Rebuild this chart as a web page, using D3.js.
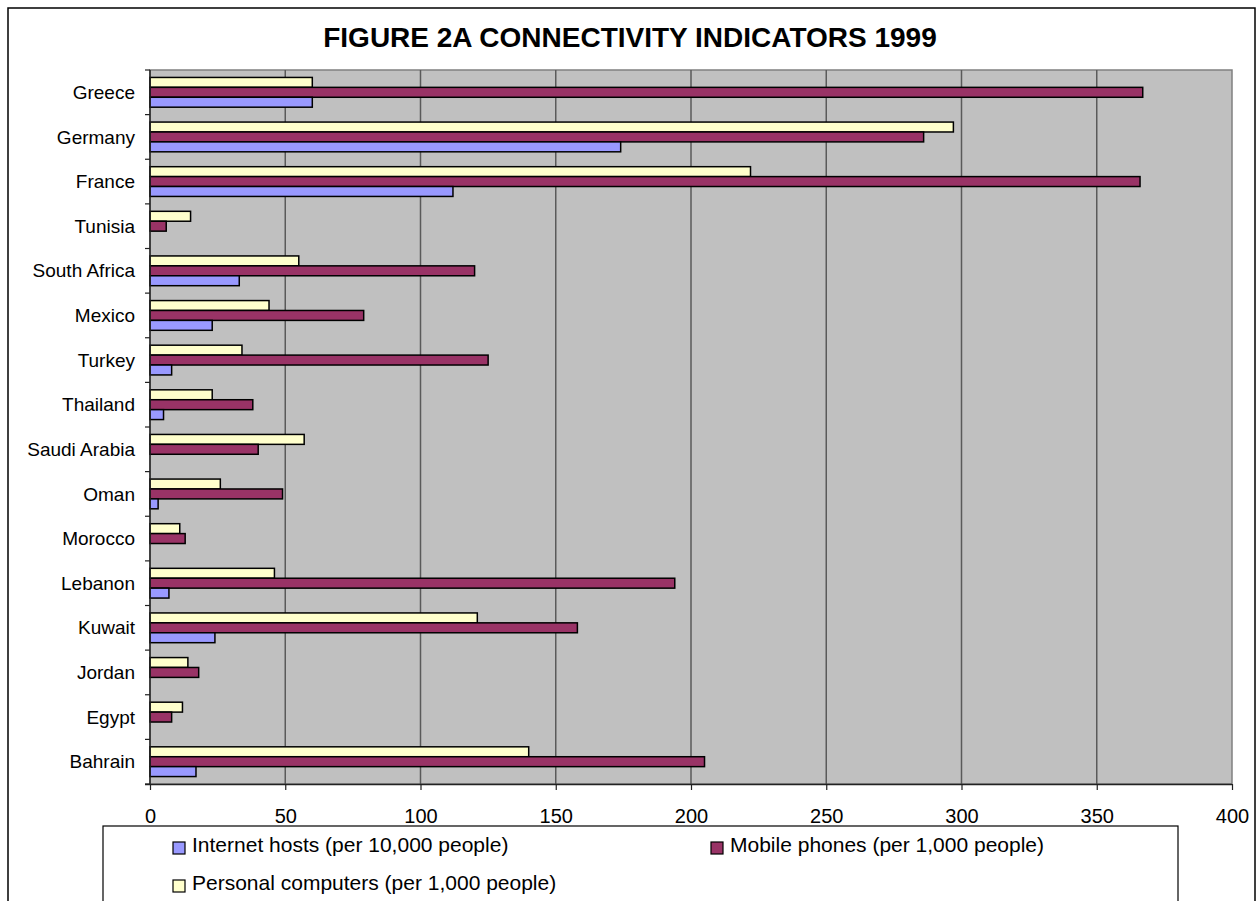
<!DOCTYPE html>
<html>
<head>
<meta charset="utf-8">
<script src="https://cdn.jsdelivr.net/npm/d3@7"></script>
<style>
  html, body { margin: 0; padding: 0; background: #fff; }
  svg { display: block; font-family: Arial, "Liberation Sans", sans-serif; }
</style>
</head>
<body>
<svg id="chart" width="1260" height="901"></svg>
<script>
// ---- Data ----
const categories = ["Greece","Germany","France","Tunisia","South Africa","Mexico","Turkey","Thailand","Saudi Arabia","Oman","Morocco","Lebanon","Kuwait","Jordan","Egypt","Bahrain"];
const internetHosts = [60,174,112,null,33,23,8,5,null,3,null,7,24,null,null,17];
const mobilePhones = [367,286,366,6,120,79,125,38,40,49,13,194,158,18,8,205];
const personalComputers = [60,297,222,15,55,44,34,23,57,26,11,46,121,14,12,140];
const xTicks = [0,50,100,150,200,250,300,350,400];
const seriesNames = ["Internet hosts (per 10,000 people)","Mobile phones (per 1,000 people)","Personal computers (per 1,000 people)"];
const seriesColors = ["#9999FF","#993366","#FFFFCC"];
const titleText = "FIGURE 2A CONNECTIVITY INDICATORS 1999";

// series in drawing order within a band (top to bottom)
const series = [
  {key:"pc", name: seriesNames[2], color: seriesColors[2], values: personalComputers},
  {key:"mobile", name: seriesNames[1], color: seriesColors[1], values: mobilePhones},
  {key:"internet", name: seriesNames[0], color: seriesColors[0], values: internetHosts}
];

const svg = d3.select("#chart");
const W = 1260, H = 901;
const plot = {left: 150, right: 1232, top: 70, bottom: 784};

svg.append("rect").attr("width", W).attr("height", H).attr("fill", "#fff");
// outer chart border
svg.append("rect").attr("x", 8).attr("y", 8).attr("width", 1247).attr("height", 905)
  .attr("fill", "none").attr("stroke", "#000").attr("stroke-width", 1.5);

// title
svg.append("text").attr("x", 630).attr("y", 47).attr("text-anchor", "middle")
  .attr("font-size", 28).attr("font-weight", "bold").attr("fill", "#000").text(titleText);

const x = d3.scaleLinear().domain([0, 400]).range([plot.left, plot.right]);
const y = d3.scaleBand().domain(categories).range([plot.top, plot.bottom]).paddingInner(0).paddingOuter(0);
const sub = d3.scaleBand().domain(series.map(s => s.key)).range([0, y.bandwidth()]).paddingInner(0).paddingOuter(0.75);

// plot background
svg.append("rect").attr("x", plot.left).attr("y", plot.top)
  .attr("width", plot.right - plot.left).attr("height", plot.bottom - plot.top)
  .attr("fill", "#C0C0C0").attr("stroke", "#808080").attr("stroke-width", 1.5);

// gridlines
svg.append("g").selectAll("line").data(xTicks.filter(d => d > 0 && d < 400)).join("line")
  .attr("x1", d => x(d)).attr("x2", d => x(d))
  .attr("y1", plot.top).attr("y2", plot.bottom)
  .attr("stroke", "#5a5a5a").attr("stroke-width", 1.5);

// bars
const rows = categories.map((c, i) => ({c, i}));
series.forEach(s => {
  svg.append("g").selectAll("rect")
    .data(rows.filter(r => s.values[r.i] != null && s.values[r.i] > 0))
    .join("rect")
    .attr("x", x(0))
    .attr("y", r => y(r.c) + sub(s.key))
    .attr("width", r => x(s.values[r.i]) - x(0))
    .attr("height", sub.bandwidth())
    .attr("fill", s.color)
    .attr("stroke", "#000").attr("stroke-width", 1.5);
});

// bottom axis
const xAxis = d3.axisBottom(x).tickValues(xTicks).tickSize(6).tickPadding(19).tickSizeOuter(0);
const gx = svg.append("g").attr("transform", `translate(0,${plot.bottom})`).call(xAxis);
gx.select(".domain").attr("stroke", "#222").attr("stroke-width", 1.5).attr("d", `M${plot.left-5},0.5H${plot.right}`);
gx.selectAll(".tick line").attr("stroke", "#222").attr("stroke-width", 1.2);
gx.selectAll(".tick text").attr("font-size", 20).attr("fill", "#000")
  .attr("font-family", "Arial, 'Liberation Sans', sans-serif");

// left axis: line, ticks between categories, labels at centres
const gy = svg.append("g");
gy.append("line").attr("x1", plot.left).attr("x2", plot.left).attr("y1", plot.top).attr("y2", plot.bottom)
  .attr("stroke", "#222").attr("stroke-width", 1.5);
const boundaries = categories.map(c => y(c)).concat([plot.bottom]);
gy.selectAll("line.tk").data(boundaries).join("line").attr("class", "tk")
  .attr("x1", plot.left - 5).attr("x2", plot.left).attr("y1", d => d).attr("y2", d => d)
  .attr("stroke", "#222").attr("stroke-width", 1.2);
gy.selectAll("text").data(categories).join("text")
  .attr("x", 135).attr("y", c => y(c) + y.bandwidth() / 2).attr("dy", "0.35em")
  .attr("text-anchor", "end").attr("font-size", 19).attr("fill", "#000").text(c => c);

// legend
const lg = svg.append("g");
lg.append("rect").attr("x", 103).attr("y", 826).attr("width", 1075).attr("height", 100)
  .attr("fill", "#fff").attr("stroke", "#000").attr("stroke-width", 1.2);
const legendItems = [
  {name: seriesNames[0], color: seriesColors[0], x: 173, y: 842},
  {name: seriesNames[1], color: seriesColors[1], x: 711, y: 842},
  {name: seriesNames[2], color: seriesColors[2], x: 173, y: 880}
];
const li = lg.selectAll("g.item").data(legendItems).join("g").attr("class", "item");
li.append("rect").attr("x", d => d.x).attr("y", d => d.y).attr("width", 12).attr("height", 12)
  .attr("fill", d => d.color).attr("stroke", "#000").attr("stroke-width", 1.2);
li.append("text").attr("x", d => d.x + 19).attr("y", d => d.y + 10)
  .attr("font-size", 21).attr("fill", "#000").text(d => d.name);
</script>
</body>
</html>
